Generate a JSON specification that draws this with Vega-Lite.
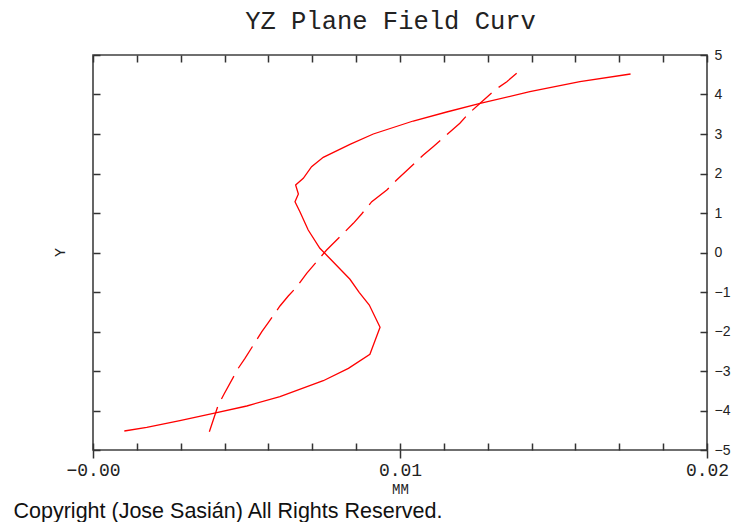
{
  "$schema": "https://vega.github.io/schema/vega-lite/v6.json",
  "width": 614,
  "height": 395,
  "autosize": {"type": "none"},
  "padding": {"left": 93, "top": 55, "right": 24, "bottom": 72},
  "background": "white",
  "config": {
    "view": {"stroke": "#404040", "strokeWidth": 1.6},
    "axis": {"grid": false, "domain": false, "tickColor": "#333333", "tickWidth": 1.5, "labelColor": "#222222", "titleColor": "#222222", "labelOverlap": false, "labelFlush": false, "labelBound": false, "titleFontWeight": "normal"}
  },
  "datasets": {
    "curves": [
      {"s": "T", "x": 0.00102, "y": -4.519},
      {"s": "T", "x": 0.00175, "y": -4.425},
      {"s": "T", "x": 0.00283, "y": -4.258},
      {"s": "T", "x": 0.00392, "y": -4.071},
      {"s": "T", "x": 0.00501, "y": -3.886},
      {"s": "T", "x": 0.00609, "y": -3.646},
      {"s": "T", "x": 0.00750, "y": -3.246},
      {"s": "T", "x": 0.00832, "y": -2.932},
      {"s": "T", "x": 0.00902, "y": -2.577},
      {"s": "T", "x": 0.00935, "y": -1.894},
      {"s": "T", "x": 0.00900, "y": -1.329},
      {"s": "T", "x": 0.00867, "y": -1.008},
      {"s": "T", "x": 0.00837, "y": -0.678},
      {"s": "T", "x": 0.00766, "y": -0.106},
      {"s": "T", "x": 0.00739, "y": 0.106},
      {"s": "T", "x": 0.00701, "y": 0.570},
      {"s": "T", "x": 0.00674, "y": 1.033},
      {"s": "T", "x": 0.00658, "y": 1.286},
      {"s": "T", "x": 0.00669, "y": 1.481},
      {"s": "T", "x": 0.00660, "y": 1.709},
      {"s": "T", "x": 0.00685, "y": 1.878},
      {"s": "T", "x": 0.00712, "y": 2.172},
      {"s": "T", "x": 0.00750, "y": 2.410},
      {"s": "T", "x": 0.00837, "y": 2.739},
      {"s": "T", "x": 0.00913, "y": 3.000},
      {"s": "T", "x": 0.01043, "y": 3.329},
      {"s": "T", "x": 0.01152, "y": 3.557},
      {"s": "T", "x": 0.01261, "y": 3.777},
      {"s": "T", "x": 0.01423, "y": 4.071},
      {"s": "T", "x": 0.01586, "y": 4.324},
      {"s": "T", "x": 0.01751, "y": 4.519},
      {"s": "S", "x": 0.00379, "y": -4.537},
      {"s": "S", "x": 0.00408, "y": -3.861},
      {"s": "S", "x": 0.00427, "y": -3.582},
      {"s": "S", "x": 0.00473, "y": -2.932},
      {"s": "S", "x": 0.00495, "y": -2.678},
      {"s": "S", "x": 0.00550, "y": -2.005},
      {"s": "S", "x": 0.00571, "y": -1.777},
      {"s": "S", "x": 0.00609, "y": -1.354},
      {"s": "S", "x": 0.00636, "y": -1.101},
      {"s": "S", "x": 0.00664, "y": -0.866},
      {"s": "S", "x": 0.00696, "y": -0.527},
      {"s": "S", "x": 0.00761, "y": 0.063},
      {"s": "S", "x": 0.00848, "y": 0.739},
      {"s": "S", "x": 0.00875, "y": 0.975},
      {"s": "S", "x": 0.00908, "y": 1.286},
      {"s": "S", "x": 0.00957, "y": 1.582},
      {"s": "S", "x": 0.00989, "y": 1.835},
      {"s": "S", "x": 0.01076, "y": 2.468},
      {"s": "S", "x": 0.01108, "y": 2.678},
      {"s": "S", "x": 0.01195, "y": 3.271},
      {"s": "S", "x": 0.01222, "y": 3.506},
      {"s": "S", "x": 0.01261, "y": 3.777},
      {"s": "S", "x": 0.01309, "y": 4.114},
      {"s": "S", "x": 0.01348, "y": 4.324},
      {"s": "S", "x": 0.01380, "y": 4.537}
    ]
  },
  "data": {"name": "curves"},
  "resolve": {"axis": {"x": "independent", "y": "independent"}},
  "layer": [
    {
      "transform": [{"filter": "datum.s == 'T'"}],
      "mark": {"type": "line", "color": "#ff0000", "strokeWidth": 1.3, "clip": true},
      "encoding": {
        "x": {"field": "x", "type": "quantitative",
          "scale": {"domain": [0, 0.02], "nice": false, "zero": false},
          "axis": {"orient": "bottom",
            "values": [0, 0.00142857, 0.00285714, 0.00428571, 0.00571429, 0.00714286, 0.00857143, 0.01, 0.01142857, 0.01285714, 0.01428571, 0.01571429, 0.01714286, 0.01857143, 0.02],
            "labelExpr": "datum.value == 0 ? '\u22120.00' : (abs(datum.value - 0.01) < 1e-9 ? '0.01' : (abs(datum.value - 0.02) < 1e-9 ? '0.02' : ''))",
            "tickSize": -7, "labelPadding": 18, "labelFont": "Liberation Mono", "labelFontSize": 18, "labelBaseline": "top",
            "title": "MM", "titleFont": "Liberation Mono", "titleFontSize": 14, "titleX": 307, "titleY": 43, "titleBaseline": "alphabetic", "titleAlign": "center"}},
        "y": {"field": "y", "type": "quantitative",
          "scale": {"domain": [-5, 5], "nice": false, "zero": false},
          "axis": {"orient": "right", "values": [-5, -4, -3, -2, -1, 0, 1, 2, 3, 4, 5],
            "tickSize": -7, "labelPadding": 14, "labelFont": "Liberation Sans", "labelFontSize": 14, "labelBaseline": "middle", "title": null}},
        "order": {"field": "y", "type": "quantitative"}
      }
    },
    {
      "transform": [{"filter": "datum.s == 'S'"}],
      "mark": {"type": "line", "color": "#ff0000", "strokeWidth": 1.3, "strokeDash": [26, 9], "clip": true},
      "encoding": {
        "x": {"field": "x", "type": "quantitative",
          "scale": {"domain": [0, 0.02], "nice": false, "zero": false},
          "axis": {"orient": "top",
            "values": [0, 0.00142857, 0.00285714, 0.00428571, 0.00571429, 0.00714286, 0.00857143, 0.01, 0.01142857, 0.01285714, 0.01428571, 0.01571429, 0.01714286, 0.01857143, 0.02],
            "tickSize": -7, "labels": false,
            "title": "YZ Plane Field Curv", "titleFont": "Liberation Mono", "titleFontSize": 25.5, "titleColor": "#222222",
            "titleX": 297, "titleY": -27, "titleAlign": "center", "titleBaseline": "alphabetic"}},
        "y": {"field": "y", "type": "quantitative",
          "scale": {"domain": [-5, 5], "nice": false, "zero": false},
          "axis": {"orient": "left", "values": [-5, -4, -3, -2, -1, 0, 1, 2, 3, 4, 5],
            "tickSize": -7, "labels": false,
            "title": "Y", "titleFont": "Liberation Mono", "titleFontSize": 15, "titleX": -34, "titleY": 197, "titleAngle": -90, "titleAlign": "center", "titleBaseline": "middle"}},
        "order": {"field": "y", "type": "quantitative"}
      }
    },
    {
      "transform": [{"filter": "datum.s == 'T'"}],
      "mark": {"type": "line", "opacity": 0},
      "encoding": {
        "x": {"field": "x", "type": "quantitative",
          "scale": {"domain": [0, 0.02], "nice": false, "zero": false},
          "axis": {"orient": "bottom", "values": [0, 0.01, 0.02], "tickSize": 8, "labels": false,
            "title": "Copyright (Jose Sasián) All Rights Reserved.", "titleFont": "Liberation Sans", "titleFontSize": 21.5, "titleColor": "#111111",
            "titleX": -80, "titleY": 67, "titleAlign": "left", "titleAnchor": "start", "titleBaseline": "alphabetic"}},
        "y": {"field": "y", "type": "quantitative",
          "scale": {"domain": [-5, 5], "nice": false, "zero": false},
          "axis": null},
        "order": {"field": "y", "type": "quantitative"}
      }
    }
  ]
}
